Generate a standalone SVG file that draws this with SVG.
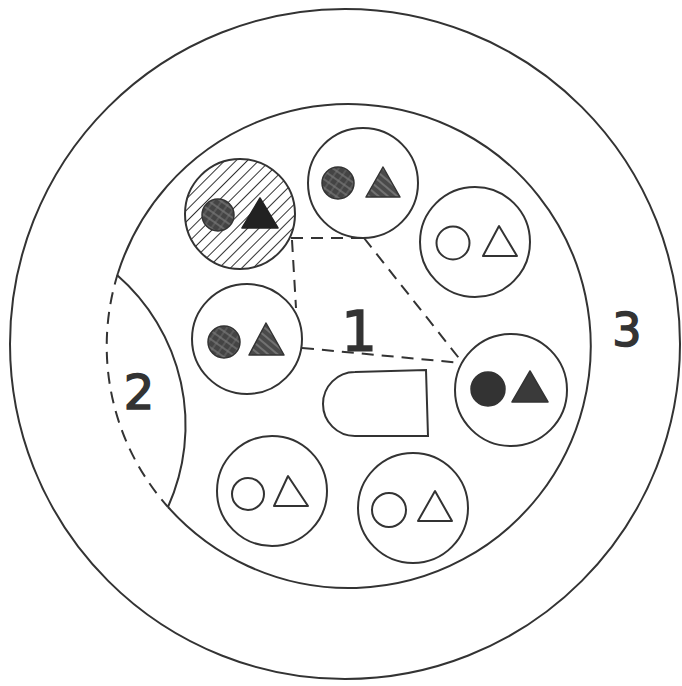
<svg xmlns="http://www.w3.org/2000/svg" width="682" height="686" viewBox="0 0 682 686">
<defs>
<pattern id="hatch" patternUnits="userSpaceOnUse" width="8" height="8" patternTransform="rotate(45)">
<rect width="8" height="8" fill="#fff"/>
<line x1="0" y1="0" x2="0" y2="8" stroke="#333" stroke-width="2"/>
</pattern>
<pattern id="grey" patternUnits="userSpaceOnUse" width="6" height="6" patternTransform="rotate(40)">
<rect width="6" height="6" fill="#4a4a4a"/>
<line x1="0" y1="3" x2="6" y2="3" stroke="#9a9a9a" stroke-width="1"/>
</pattern>
<pattern id="cross" patternUnits="userSpaceOnUse" width="7" height="7" patternTransform="rotate(35)">
<rect width="7" height="7" fill="#444"/>
<line x1="0" y1="3" x2="7" y2="3" stroke="#8a8a8a" stroke-width="1"/>
<line x1="3" y1="0" x2="3" y2="7" stroke="#777" stroke-width="0.8"/>
</pattern>
</defs>
<style>
.ln{fill:none;stroke:#333;stroke-width:2}
.nd{fill:#fff;stroke:#333;stroke-width:2}
.op{fill:none;stroke:#333;stroke-width:2}
.dash{fill:none;stroke:#333;stroke-width:2;stroke-dasharray:12 8}
.lbl{font-family:"DejaVu Sans","Liberation Sans",sans-serif;fill:#333;stroke:#333;stroke-width:1.6;text-anchor:middle}
</style>
<rect width="682" height="686" fill="#fff"/>
<g id="region3">
<circle cx="345" cy="344" r="335" class="ln"/>
<text class="lbl" x="627" y="346" font-size="46">3</text>
</g>
<g id="region1">
<path d="M118,273 A242,242 0 1 1 168,507" class="ln"/>
<path d="M118,273 A242,242 0 0 0 168,507" class="dash"/>
<text class="lbl" x="359" y="350" font-size="56">1</text>
</g>
<g id="region2">
<path d="M117,275 A199,199 0 0 1 168,507" class="ln"/>
<text class="lbl" x="139" y="409" font-size="48">2</text>
</g>
<g id="connectors">
<path d="M291,238 L362,238" class="dash"/>
<path d="M292,240 L296,308" class="dash"/>
<path d="M364,238 L462,362" class="dash"/>
<path d="M302,348 L462,363" class="dash"/>
</g>
<g id="node-hatched">
<circle cx="240" cy="214" r="55" fill="url(#hatch)" stroke="#333" stroke-width="2"/>
<circle cx="218" cy="215" r="16" fill="url(#cross)" stroke="#333" stroke-width="1.5"/>
<polygon points="260,198 242,228 278,228" fill="#222" stroke="#222" stroke-width="1.5" stroke-linejoin="round"/>
</g>
<g id="node-top">
<circle cx="363" cy="183" r="55" class="nd"/>
<circle cx="338" cy="183" r="16" fill="url(#cross)" stroke="#333" stroke-width="1.5"/>
<polygon points="383,167 366,197 400,197" fill="url(#grey)" stroke="#333" stroke-width="1.5" stroke-linejoin="round"/>
</g>
<g id="node-upper-right">
<circle cx="475" cy="242" r="55" class="nd"/>
<circle cx="453" cy="243" r="16.5" class="op"/>
<polygon points="499,226 483,256 517,256" class="op" stroke-linejoin="round"/>
</g>
<g id="node-middle-left">
<circle cx="247" cy="339" r="55" class="nd"/>
<circle cx="224" cy="342" r="16" fill="url(#cross)" stroke="#333" stroke-width="1.5"/>
<polygon points="266,323 249,355 284,355" fill="url(#grey)" stroke="#333" stroke-width="1.5" stroke-linejoin="round"/>
</g>
<g id="node-right">
<circle cx="511" cy="390" r="56" class="nd"/>
<circle cx="488" cy="389" r="17" fill="#333" stroke="#333" stroke-width="1.5"/>
<polygon points="530,371 512,402 548,402" fill="#3a3a3a" stroke="#333" stroke-width="1.5" stroke-linejoin="round"/>
</g>
<g id="node-center-shape">
<path d="M355,372 L426,370 L428,436 L355,436 A32,32 0 0 1 355,372 Z" class="ln"/>
</g>
<g id="node-bottom-left">
<circle cx="272" cy="491" r="55" class="nd"/>
<circle cx="248" cy="494" r="16" class="op"/>
<polygon points="288,476 274,506 308,506" class="op" stroke-linejoin="round"/>
</g>
<g id="node-bottom-right">
<circle cx="413" cy="508" r="55" class="nd"/>
<circle cx="389" cy="510" r="17" class="op"/>
<polygon points="435,491 418,521 452,521" class="op" stroke-linejoin="round"/>
</g>
</svg>
